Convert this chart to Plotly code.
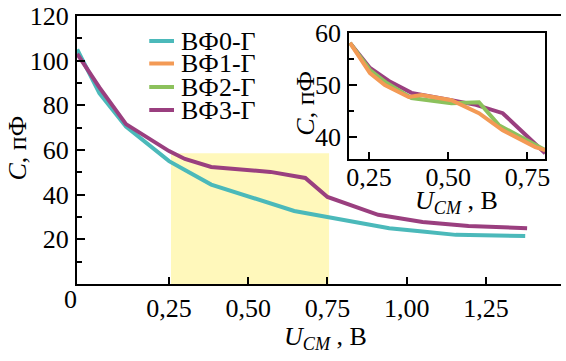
import plotly.graph_objects as go

# Main panel: C(U) for the two extreme samples
u_main_0 = [-0.04, 0.03, 0.114, 0.25, 0.30, 0.383, 0.645, 0.755, 0.945, 1.05, 1.155, 1.374]
c_main_0 = [105, 85.5, 70.5, 55, 51, 44.5, 32.7, 30, 25, 23.5, 22, 21.5]
u_main_3 = [-0.04, 0.03, 0.114, 0.25, 0.30, 0.383, 0.57, 0.68, 0.75, 0.91, 1.05, 1.195, 1.38]
c_main_3 = [103, 88, 71.6, 59.5, 56, 52.4, 50.2, 47.5, 39, 31, 27.8, 26, 25]

# Inset: zoomed region 0.25-0.75 V
u_in_1 = [0.19, 0.253, 0.30, 0.375, 0.416, 0.51, 0.597, 0.672, 0.775, 0.806]
c_in_1 = [58.1, 52.3, 50.0, 47.7, 48.1, 47.1, 44.6, 41.3, 38.1, 37.5]
u_in_2 = [0.19, 0.253, 0.306, 0.384, 0.51, 0.597, 0.66, 0.806]
c_in_2 = [58.1, 52.9, 50.4, 47.5, 46.5, 46.7, 42.3, 37.5]
u_in_3 = [0.19, 0.253, 0.3125, 0.384, 0.51, 0.5875, 0.672, 0.806]
c_in_3 = [58.1, 53.3, 50.8, 48.5, 47.1, 46.2, 44.6, 36.9]

names = ["ВФ0-Г", "ВФ1-Г", "ВФ2-Г", "ВФ3-Г"]
colors = ["#4BB9BA", "#F39A55", "#8CC15C", "#9A3F7F"]

x_ticks_main = [0.25, 0.5, 0.75, 1.0, 1.25]
y_ticks_main = [20, 40, 60, 80, 100, 120]
y_minor_main = [10, 30, 50, 70, 90, 110]
x_ticks_in = [0.25, 0.5, 0.75]
y_ticks_in = [40, 50, 60]
y_minor_in = [45, 55]

zoom_box = dict(u0=0.256, u1=0.755, c0=0, c1=58.5)

FONT = "Times New Roman, Liberation Serif, serif"
FS = 26
YELLOW = "#FFF8BB"
LW = 4

fig = go.Figure()

fig.add_trace(go.Scatter(x=u_main_0, y=c_main_0, mode="lines", name=names[0],
                         line=dict(color=colors[0], width=LW), showlegend=False))
fig.add_trace(go.Scatter(x=u_main_3, y=c_main_3, mode="lines", name=names[3],
                         line=dict(color=colors[3], width=LW), showlegend=False))

fig.add_trace(go.Scatter(x=u_in_3, y=c_in_3, mode="lines", name=names[3],
                         line=dict(color=colors[3], width=LW), showlegend=False,
                         xaxis="x2", yaxis="y2"))
fig.add_trace(go.Scatter(x=u_in_2, y=c_in_2, mode="lines", name=names[2],
                         line=dict(color=colors[2], width=LW), showlegend=False,
                         xaxis="x2", yaxis="y2"))
fig.add_trace(go.Scatter(x=u_in_1, y=c_in_1, mode="lines", name=names[1],
                         line=dict(color=colors[1], width=LW), showlegend=False,
                         xaxis="x2", yaxis="y2"))

axis_common = dict(showline=True, linecolor="black", linewidth=2, ticks="inside",
                   tickcolor="black", tickwidth=1.5, showgrid=False, zeroline=False,
                   tickfont=dict(family=FONT, size=FS, color="black"))

inset_x = [0.5624, 0.9673]
inset_y = [0.4664, 0.9366]

fig.update_layout(
    width=566, height=361,
    margin=dict(l=77, r=0, t=16, b=77),
    paper_bgcolor="white", plot_bgcolor="white",
    separators=", ",
    showlegend=False,
    xaxis=dict(range=[-0.0406, 1.487], tickvals=x_ticks_main, tickformat=".2f",
               ticklen=7, mirror=True, ticklabelstandoff=0, **axis_common),
    yaxis=dict(range=[0, 120], tickvals=y_ticks_main, ticklen=8,
               minor=dict(tickvals=y_minor_main, ticks="inside", ticklen=5,
                          tickcolor="black", tickwidth=1.5),
               ticklabelstandoff=1, **axis_common),
    xaxis2=dict(domain=inset_x, anchor="y2", range=[0.1875, 0.806],
                tickvals=x_ticks_in, tickformat=".2f", ticklen=7, mirror=True,
                ticklabelstandoff=-6, **axis_common),
    yaxis2=dict(domain=inset_y, anchor="x2", range=[35.8, 60], tickvals=y_ticks_in,
                ticklen=8, mirror=True,
                minor=dict(tickvals=y_minor_in, ticks="inside", ticklen=5,
                           tickcolor="black", tickwidth=1.5),
                ticklabelstandoff=1, **axis_common),
)

# shaded zoom region in the main panel
fig.add_shape(type="rect", xref="x", yref="y", x0=zoom_box["u0"], x1=zoom_box["u1"],
              y0=zoom_box["c0"], y1=zoom_box["c1"], fillcolor=YELLOW,
              line=dict(width=0), layer="below")
# inset background
fig.add_shape(type="rect", xref="x2 domain", yref="y2 domain", x0=0, x1=1, y0=0, y1=1,
              fillcolor=YELLOW, line=dict(width=0), layer="below")

# legend drawn as line samples + labels
leg_y = [41, 63.5, 87, 110]
for name, col, py in zip(names, colors, leg_y):
    fig.add_shape(type="line", xref="paper", yref="paper",
                  x0=(150 - 77) / 489, x1=(175 - 77) / 489,
                  y0=(284 - py) / 268, y1=(284 - py) / 268,
                  line=dict(color=col, width=LW))
    fig.add_annotation(text=name, xref="paper", yref="paper",
                       x=(180 - 77) / 489, y=(284 - py) / 268,
                       xanchor="left", yanchor="middle", showarrow=False,
                       font=dict(family=FONT, size=FS, color="black"))

title_font = dict(family=FONT, size=FS, color="black")
u_title = "<i>U</i><sub><i>СМ</i></sub> , В"

# main axis titles
fig.add_annotation(text=u_title, xref="paper", yref="paper",
                   x=(328 - 77) / 489, y=(284 - 338) / 268, xanchor="center",
                   yanchor="middle", showarrow=False, font=title_font)
fig.add_annotation(text="<i>C</i>, пФ", xref="paper", yref="paper",
                   x=(16 - 77) / 489, y=(284 - 148) / 268, xanchor="center",
                   yanchor="middle", textangle=-90, showarrow=False, font=title_font)
fig.add_annotation(text="0", xref="paper", yref="paper",
                   x=(70 - 77) / 489, y=(284 - 299) / 268, xanchor="center",
                   yanchor="middle", showarrow=False, font=title_font)

# inset axis titles
fig.add_annotation(text=u_title, xref="paper", yref="paper",
                   x=(460 - 77) / 489, y=(284 - 202) / 268, xanchor="center",
                   yanchor="middle", showarrow=False, font=title_font)
fig.add_annotation(text="<i>C</i>, пФ", xref="paper", yref="paper",
                   x=(307 - 77) / 489, y=(284 - 103) / 268, xanchor="center",
                   yanchor="middle", textangle=-90, showarrow=False, font=title_font)

fig.write_html("out.html")
